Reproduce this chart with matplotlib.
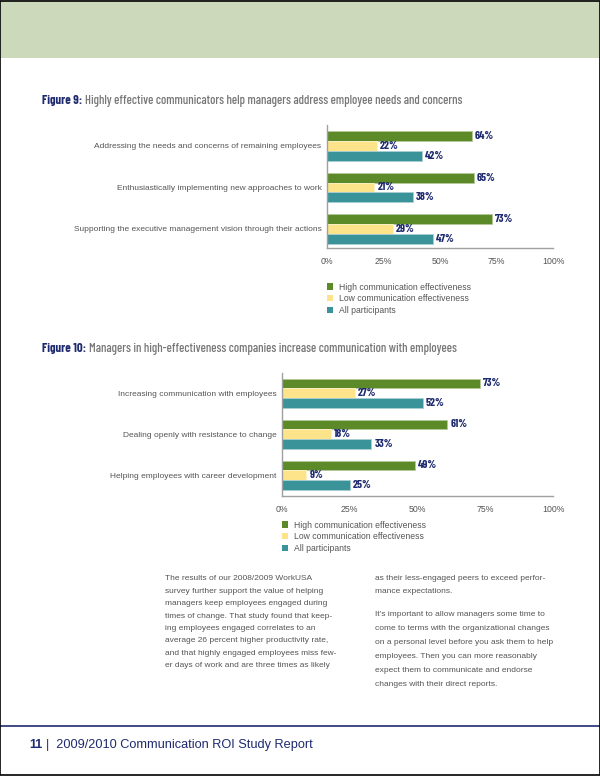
import matplotlib
matplotlib.use("Agg")
import matplotlib.pyplot as plt
from matplotlib.patches import Rectangle, Patch
import numpy as np

# ---------------- data ----------------
fig9_categories = ["Addressing the needs and concerns of remaining employees",
                   "Enthusiastically implementing new approaches to work",
                   "Supporting the executive management vision through their actions"]
fig9_high = [64, 65, 73]
fig9_low = [22, 21, 29]
fig9_all = [42, 38, 47]

fig10_categories = ["Increasing communication with employees",
                    "Dealing openly with resistance to change",
                    "Helping employees with career development"]
fig10_high = [73, 61, 49]
fig10_low = [27, 18, 9]
fig10_all = [52, 33, 25]

series_names = ["High communication effectiveness",
                "Low communication effectiveness",
                "All participants"]
tick_values = [0, 25, 50, 75, 100]
tick_labels = ["0%", "25%", "50%", "75%", "100%"]

para1 = ["The results of our 2008/2009 WorkUSA",
         "survey further support the value of helping",
         "managers keep employees engaged during",
         "times of change. That study found that keep-",
         "ing employees engaged correlates to an",
         "average 26 percent higher productivity rate,",
         "and that highly engaged employees miss few-",
         "er days of work and are three times as likely"]
para2a = ["as their less-engaged peers to exceed perfor-",
          "mance expectations."]
para2b = ["It\u2019s important to allow managers some time to",
          "come to terms with the organizational changes",
          "on a personal level before you ask them to help",
          "employees. Then you can more reasonably",
          "expect them to communicate and endorse",
          "changes with their direct reports."]

# ---------------- style ----------------
W, H = 600, 776
GREEN = "#5d8a29"
YELLOW = "#fde48a"
TEAL = "#3a9399"
EDGES = ["#b5c99a", "#fff3c8", "#a8d0d3"]
NAVY = "#1e2a6e"
GRAY = "#555555"
TGRAY = "#777777"
SANS = ["Liberation Sans", "DejaVu Sans"]
NARROW = ["Barlow Condensed", "Archivo Narrow", "Liberation Sans Narrow", "DejaVu Sans"]
FS = 6.0

fig = plt.figure(figsize=(W / 100, H / 100), dpi=100)
fig.patch.set_facecolor("white")


def fx(x):
    return x / W


def fy(y):
    return 1 - y / H


# header band and page border
fig.add_artist(Rectangle((0, fy(58)), 1, 58 / H, transform=fig.transFigure,
                         facecolor="#cdd9bb", edgecolor="none", zorder=0))
fig.add_artist(Rectangle((0.0008, 0.0008), 0.9984, 0.9984, transform=fig.transFigure,
                         facecolor="none", edgecolor="black", lw=1.2, zorder=10))


def draw_chart(left, top, bottom, right, cats, high, low, allp, ylims):
    ax = fig.add_axes([fx(left), fy(bottom), fx(right - left), (bottom - top) / H])
    n = len(cats)
    y = np.arange(n)
    h = 0.24
    colors = [GREEN, YELLOW, TEAL]
    for i, (vals, off) in enumerate(zip([high, low, allp], [-h, 0, h])):
        bars = ax.barh(y + off, vals, height=h, color=colors[i],
                       edgecolor=EDGES[i], linewidth=0.6, zorder=2)
        ax.bar_label(bars, labels=[f"{v}%" for v in vals], padding=2.2,
                     fontsize=8.2, color=NAVY, fontweight="bold", family=NARROW)
    ax.set_xlim(0, 100)
    ax.set_ylim(ylims[1], ylims[0])
    ax.set_yticks(y)
    ax.set_yticklabels(cats, fontsize=FS, color=GRAY, family=SANS)
    ax.set_xticks(tick_values)
    ax.set_xticklabels(tick_labels, fontsize=FS + 0.3, color=GRAY, family=SANS)
    ax.tick_params(axis="both", length=0)
    ax.tick_params(axis="x", pad=6.5)
    ax.tick_params(axis="y", pad=4)
    for s in ["top", "right"]:
        ax.spines[s].set_visible(False)
    for s in ["left", "bottom"]:
        ax.spines[s].set_color("#a0a0a0")
        ax.spines[s].set_linewidth(1.0)
    ax.set_facecolor("none")
    handles = [Patch(facecolor=c, edgecolor="none") for c in colors]
    return ax, handles


ax1, handles = draw_chart(327, 125, 248, 553, fig9_categories, fig9_high, fig9_low, fig9_all,
                          (-0.506, 2.458))
ax2, _ = draw_chart(282, 373, 496, 553, fig10_categories, fig10_high, fig10_low, fig10_all,
                    (-0.495, 2.505))


def legend_at(x, y):
    leg = fig.legend(handles, series_names, loc="upper left",
                     bbox_to_anchor=(fx(x), fy(y)), bbox_transform=fig.transFigure,
                     frameon=False, handlelength=0.75, handleheight=0.75,
                     handletextpad=0.6, labelspacing=0.3, borderpad=0, borderaxespad=0,
                     prop={"family": SANS, "size": 6.2})
    for t in leg.get_texts():
        t.set_color(GRAY)
    return leg


legend_at(327, 282.5)
legend_at(282, 520.5)

# titles
renderer = fig.canvas.get_renderer()


def title(x, y, bold, rest):
    t1 = fig.text(fx(x), fy(y), bold, fontsize=9.1, color=NAVY, fontweight="bold",
                  family=NARROW, va="center", ha="left")
    bb = t1.get_window_extent(renderer=renderer)
    fig.text(fx(bb.x1 + 3), fy(y), rest, fontsize=9.1, color=TGRAY, fontweight="medium",
             family=NARROW, va="center", ha="left")


title(42, 101, "Figure 9:", "Highly effective communicators help managers address employee needs and concerns")
title(42, 349, "Figure 10:", "Managers in high-effectiveness companies increase communication with employees")

# body text
LS = 12.4
for i, line in enumerate(para1):
    fig.text(fx(165), fy(579 + i * LS), line, fontsize=FS + 0.05, color=GRAY, family=SANS,
             va="center", ha="left")
for i, line in enumerate(para2a):
    fig.text(fx(375), fy(579 + i * LS), line, fontsize=FS + 0.05, color=GRAY, family=SANS,
             va="center", ha="left")
for i, line in enumerate(para2b):
    fig.text(fx(375), fy(614 + i * LS * 1.13), line, fontsize=FS + 0.05, color=GRAY, family=SANS,
             va="center", ha="left")

# footer
fig.add_artist(plt.Line2D([0, 1], [fy(726), fy(726)], transform=fig.transFigure,
                          color=NAVY, lw=1.2))
t = fig.text(fx(29), fy(745), "11", fontsize=9.2, color=NAVY, fontweight="bold",
             family=SANS, va="center", ha="left")
bb = t.get_window_extent(renderer=renderer)
fig.text(fx(bb.x1 + 4), fy(745), "|  2009/2010 Communication ROI Study Report", fontsize=9.2,
         color=NAVY, family=SANS, va="center", ha="left")

fig.savefig("out.png", dpi=100)
